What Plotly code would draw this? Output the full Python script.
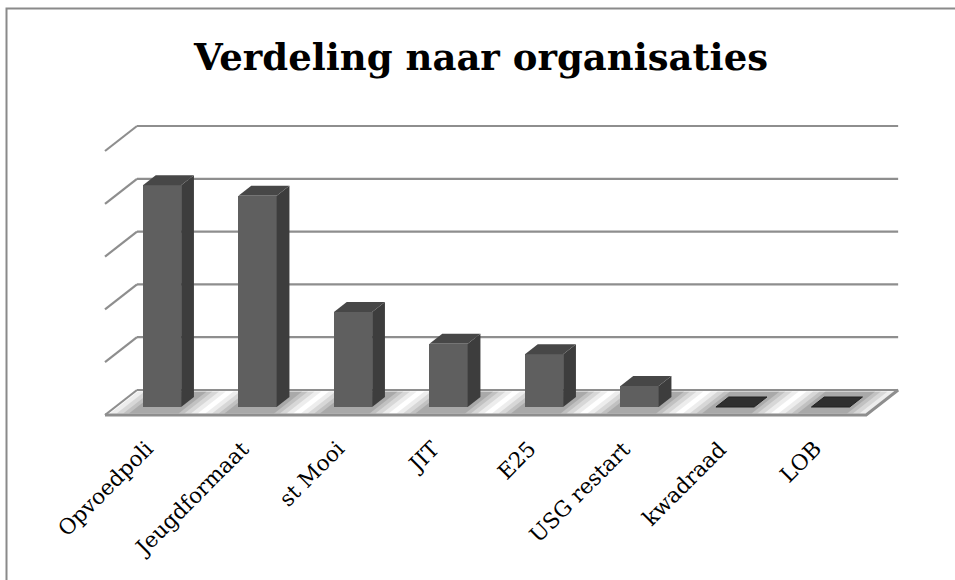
import plotly.graph_objects as go

categories = ["Opvoedpoli", "Jeugdformaat", "st Mooi", "JIT", "E25", "USG restart", "kwadraad", "LOB"]
values = [21, 20, 9, 6, 5, 2, 0, 0]
grid_values = [0, 5, 10, 15, 20, 25]
title_text = "Verdeling naar organisaties"

# projection style constants (3D look)
DX = 0.335   # x shift from back wall to front of floor (category units)
DY = 2.367   # y shift from back wall to front of floor (value units)
D_FRONT, D_BACK = 0.32, 0.72   # bar depth placement (0 = floor front, 1 = back wall)
HW = 0.2     # bar half width
X_LO, X_HI = -0.49, 7.48

W, H = 955, 580
PX_PER_CAT = 95.5
X0_PX = 183.8
PX_PER_VAL = 10.56
Y0_PX = 390.0

def P(x, v, d):
    return x - (1 - d) * DX, v - (1 - d) * DY

GRID = "#8e8e8e"
FRONT = "#5f5f5f"
SIDE = "#3d3d3d"
TOP = "#474747"
FLAT = "#2f2f2f"

fig = go.Figure()
shapes = []

def path_of(pts, close):
    s = "M " + " L ".join(f"{x:.4f},{y:.4f}" for x, y in pts)
    return s + (" Z" if close else "")

def shape_line(pts, color, width):
    shapes.append(dict(type="path", xref="x", yref="y", path=path_of(pts, False),
                       line=dict(color=color, width=width), layer="below"))

def shape_poly(pts, color):
    shapes.append(dict(type="path", xref="x", yref="y", path=path_of(pts, True),
                       fillcolor=color, line=dict(width=0), layer="below"))

def poly(pts, color, line_color=None, lw=0):
    xs = [p[0] for p in pts] + [pts[0][0]]
    ys = [p[1] for p in pts] + [pts[0][1]]
    fig.add_trace(go.Scatter(x=xs, y=ys, mode="lines", fill="toself", fillcolor=color,
                             line=dict(color=line_color or color, width=lw),
                             hoverinfo="skip", showlegend=False))

# floor shadows
for i, v in enumerate(values):
    for hw, a in [(0.46, 0.07), (0.39, 0.09), (0.32, 0.10), (0.26, 0.12)]:
        pts = [P(i - hw, 0, 0.06), P(i + hw, 0, 0.06), P(i + hw, 0, 0.94), P(i - hw, 0, 0.94)]
        shape_poly(pts, f"rgba(0,0,0,{a})")

# back wall gridlines and left wall diagonals
for g in grid_values:
    shape_line([P(X_LO, g, 1), P(X_HI, g, 1)], GRID, 2.2)
    shape_line([P(X_LO, g, 0), P(X_LO, g, 1)], GRID, 2.2)

# floor outline
shape_line([P(X_LO, 0, 0), P(X_HI, 0, 0), P(X_HI, 0, 1)], GRID, 3)

# bars: front faces as a bar trace
fx = [P(i, 0, D_FRONT)[0] for i in range(len(values))]
fb = P(0, 0, D_FRONT)[1]
fig.add_trace(go.Bar(x=fx, y=values, base=fb, width=2 * HW, marker=dict(color=FRONT, line=dict(width=0)),
                     hoverinfo="skip", showlegend=False))

for i, v in enumerate(values):
    top = [P(i - HW, v, D_FRONT), P(i + HW, v, D_FRONT), P(i + HW, v, D_BACK), P(i - HW, v, D_BACK)]
    if v > 0:
        side = [P(i + HW, 0, D_FRONT), P(i + HW, 0, D_BACK), P(i + HW, v, D_BACK), P(i + HW, v, D_FRONT)]
        poly(side, SIDE)
        poly(top, TOP)
    else:
        poly(top, FLAT, "#222222", 1)

# category labels
for i, c in enumerate(categories):
    x, _ = P(i, 0, D_FRONT)
    fig.add_annotation(x=x - 0.01, y=-4.1, text=c, textangle=-45, showarrow=False,
                       xanchor="right", yanchor="top",
                       font=dict(family="DejaVu Serif", size=21.5, color="#000000"))

# title
fig.add_annotation(x=0.503, y=1 - 57 / H, xref="paper", yref="paper", text=f"<b>{title_text}</b>",
                   showarrow=False, xanchor="center", yanchor="middle",
                   font=dict(family="DejaVu Serif", size=37, color="#000000"))

# chart border
shapes.append(dict(type="rect", xref="paper", yref="paper", x0=6.5 / W, x1=1.05, y0=-0.05, y1=1 - 8.5 / H,
                   line=dict(color="#8a8a8a", width=2), layer="above"))

xr = [-X0_PX / PX_PER_CAT, (W - X0_PX) / PX_PER_CAT]
yr = [(Y0_PX - H) / PX_PER_VAL, Y0_PX / PX_PER_VAL]
fig.update_layout(width=W, height=H, margin=dict(l=0, r=0, t=0, b=0),
                  paper_bgcolor="white", plot_bgcolor="white", bargap=0, shapes=shapes,
                  xaxis=dict(range=xr, visible=False, fixedrange=True),
                  yaxis=dict(range=yr, visible=False, fixedrange=True))

fig.write_html("out.html", config={"displayModeBar": False},
               post_script="document.body.style.margin='0';")
